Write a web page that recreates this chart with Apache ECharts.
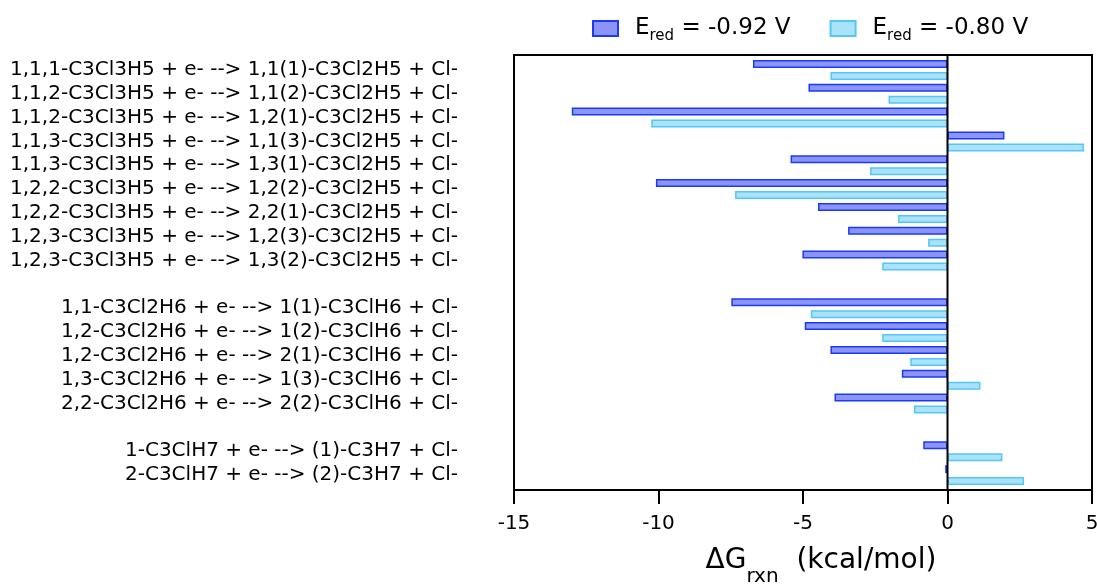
<!DOCTYPE html>
<html>
<head>
<meta charset="utf-8">
<script src="https://cdn.jsdelivr.net/npm/echarts@6/dist/echarts.min.js"></script>
<style>html,body{margin:0;padding:0;background:#fff;}#chart{width:1097px;height:584px;}</style>
</head>
<body>
<div id="chart"></div>
<script>
var categories = [
  '1,1,1-C3Cl3H5 + e- --> 1,1(1)-C3Cl2H5 + Cl-',
  '1,1,2-C3Cl3H5 + e- --> 1,1(2)-C3Cl2H5 + Cl-',
  '1,1,2-C3Cl3H5 + e- --> 1,2(1)-C3Cl2H5 + Cl-',
  '1,1,3-C3Cl3H5 + e- --> 1,1(3)-C3Cl2H5 + Cl-',
  '1,1,3-C3Cl3H5 + e- --> 1,3(1)-C3Cl2H5 + Cl-',
  '1,2,2-C3Cl3H5 + e- --> 1,2(2)-C3Cl2H5 + Cl-',
  '1,2,2-C3Cl3H5 + e- --> 2,2(1)-C3Cl2H5 + Cl-',
  '1,2,3-C3Cl3H5 + e- --> 1,2(3)-C3Cl2H5 + Cl-',
  '1,2,3-C3Cl3H5 + e- --> 1,3(2)-C3Cl2H5 + Cl-',
  ' ',
  '1,1-C3Cl2H6 + e- --> 1(1)-C3ClH6 + Cl-',
  '1,2-C3Cl2H6 + e- --> 1(2)-C3ClH6 + Cl-',
  '1,2-C3Cl2H6 + e- --> 2(1)-C3ClH6 + Cl-',
  '1,3-C3Cl2H6 + e- --> 1(3)-C3ClH6 + Cl-',
  '2,2-C3Cl2H6 + e- --> 2(2)-C3ClH6 + Cl-',
  '  ',
  '1-C3ClH7 + e- --> (1)-C3H7 + Cl-',
  '2-C3ClH7 + e- --> (2)-C3H7 + Cl-'
];
var seriesNames = ['E_red = -0.92 V', 'E_red = -0.80 V'];
var valuesM092 = [-6.73, -4.81, -13.0, 1.97, -5.43, -10.09, -4.48, -3.44, -5.02, null,
                  -7.48, -4.94, -4.05, -1.58, -3.91, null, -0.84, -0.08];
var valuesM080 = [-4.05, -2.04, -10.25, 4.72, -2.68, -7.35, -1.71, -0.67, -2.26, null,
                  -4.73, -2.26, -1.29, 1.14, -1.16, null, 1.90, 2.65];
var xTicks = [-15, -10, -5, 0, 5];
var zeroLine = [[0, 0], [0, 1]];

var FONT = 'DejaVu Sans';
var chart = echarts.init(document.getElementById('chart'), null, {renderer: 'canvas'});
chart.setOption({
  backgroundColor: '#ffffff',
  animation: false,
  textStyle: {fontFamily: FONT, color: '#000'},
  legend: {
    top: 12,
    left: 587,
    icon: 'rect',
    itemWidth: 25,
    itemHeight: 15,
    itemGap: 39,
    data: seriesNames,
    formatter: function (name) {
      var parts = name.split('_red');
      return '{m|' + parts[0] + '}{s|red}{m|' + parts[1] + '}';
    },
    textStyle: {
      padding: [0, 0, 0, 12],
      rich: {
        m: {fontFamily: FONT, fontSize: 23, color: '#000'},
        s: {fontFamily: FONT, fontSize: 15, color: '#000', padding: [16, 0, 0, 0]}
      }
    }
  },
  grid: [
    {left: 514, right: 5, top: 55, bottom: 94, show: true, borderColor: '#000', borderWidth: 2,
     containLabel: false, outerBoundsMode: 'none'},
    {left: 514, right: 5, top: 58, bottom: 97, show: false, containLabel: false, outerBoundsMode: 'none'}
  ],
  xAxis: [
    {
      type: 'value',
      gridIndex: 0,
      min: xTicks[0],
      max: xTicks[xTicks.length - 1],
      interval: 5,
      axisLine: {show: true, lineStyle: {color: '#000', width: 2}},
      axisTick: {show: true, length: 14, lineStyle: {color: '#000', width: 2}},
      axisLabel: {fontFamily: FONT, fontSize: 20, color: '#000', margin: 24},
      splitLine: {show: false},
      name: '{d|\u0394G}{s|rxn}{d|  (kcal/mol)}',
      nameLocation: 'middle',
      nameGap: 45,
      nameTextStyle: {
        padding: [0, 0, 0, 36],
        rich: {
          d: {fontFamily: FONT, fontSize: 28, color: '#000'},
          s: {fontFamily: FONT, fontSize: 20, color: '#000', padding: [32, 0, 0, 0]}
        }
      }
    },
    {
      type: 'value',
      gridIndex: 1,
      min: xTicks[0],
      max: xTicks[xTicks.length - 1],
      show: false
    }
  ],
  yAxis: [
    {type: 'value', gridIndex: 0, min: 0, max: 1, show: false},
    {
      type: 'category',
      gridIndex: 1,
      inverse: true,
      data: categories,
      axisLine: {show: false},
      axisTick: {show: false},
      axisLabel: {fontFamily: FONT, fontSize: 20, color: '#000', margin: 56, interval: 0}
    }
  ],
  series: [
    {
      name: seriesNames[0],
      type: 'bar',
      xAxisIndex: 1,
      yAxisIndex: 1,
      data: valuesM092,
      barWidth: 8,
      barGap: '50%',
      itemStyle: {color: '#8c94f8', borderColor: '#1a3af5', borderWidth: 1.5}
    },
    {
      name: seriesNames[1],
      type: 'bar',
      xAxisIndex: 1,
      yAxisIndex: 1,
      data: valuesM080,
      barWidth: 8,
      barGap: '50%',
      itemStyle: {color: '#aae2fa', borderColor: '#52c8f8', borderWidth: 1.5}
    },
    {
      name: 'zero',
      type: 'line',
      xAxisIndex: 0,
      yAxisIndex: 0,
      data: zeroLine,
      symbol: 'none',
      silent: true,
      z: 5,
      lineStyle: {color: '#000', width: 2}
    }
  ]
});
</script>
</body>
</html>
